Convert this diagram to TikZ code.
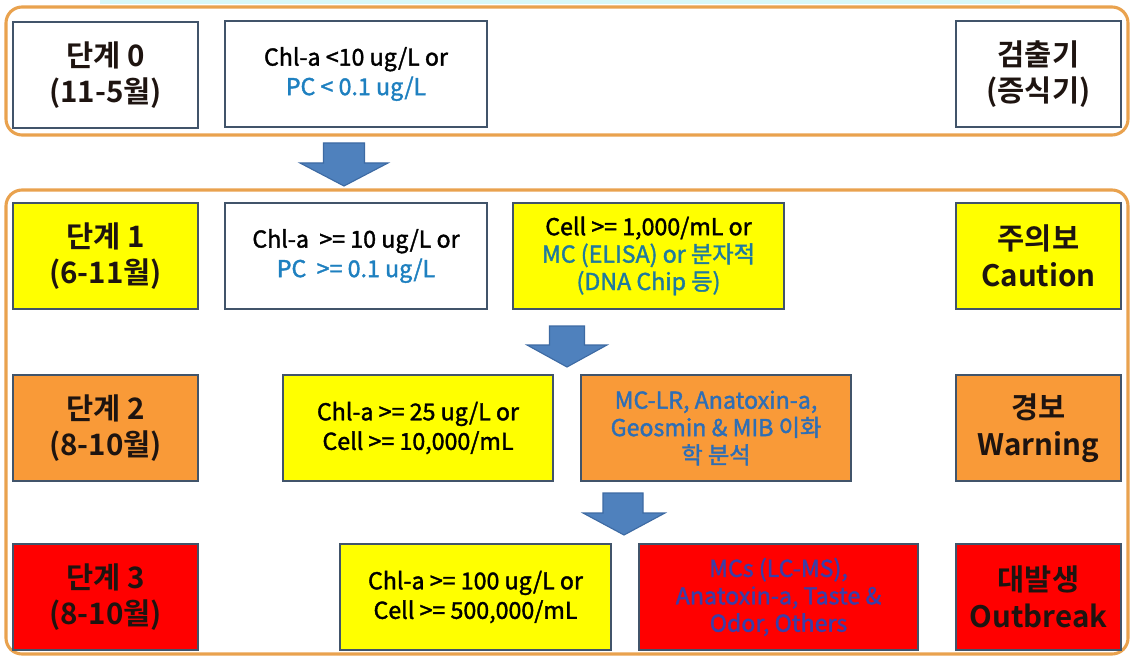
\documentclass[tikz,border=0pt]{standalone}
\usepackage{fontspec}
\setmainfont{Noto Sans CJK KR}[BoldFont={Noto Sans CJK KR Bold}]
\newfontfamily\critfont{Noto Sans CJK KR}[FakeBold=1.6]
\usepackage{tikz}
\usetikzlibrary{positioning}
\usepackage{xcolor}
\definecolor{boxline}{HTML}{41546A}
\definecolor{frameorange}{HTML}{E9A24E}
\definecolor{stageyellow}{HTML}{FFFF00}
\definecolor{stageorange}{HTML}{F99A38}
\definecolor{stagered}{HTML}{FF0000}
\definecolor{pcblue}{HTML}{1E80C0}
\definecolor{tealtext}{HTML}{1F7A9E}
\definecolor{mcblue}{HTML}{2E6EB5}
\definecolor{mcsblue}{HTML}{3A3FA8}
\definecolor{darktext}{HTML}{1E1410}
\definecolor{arrowfill}{HTML}{4F81BD}
\definecolor{arrowline}{HTML}{3D6AA3}
\definecolor{bandcyan}{HTML}{D8F8F8}

\tikzset{
  frame/.style={draw=frameorange, line width=2.2pt, rounded corners=0.4cm},
  stagebox/.style={draw=boxline, line width=2pt, inner sep=0pt, align=center,
    minimum height=2.65cm, text=darktext,
    font=\bfseries\fontsize{21}{26}\selectfont},
  critbox/.style={draw=boxline, line width=2pt, inner sep=0pt, align=center,
    minimum height=2.65cm, fill=white,
    font=\critfont\fontsize{16.5}{21}\selectfont},
  threeline/.style={font=\critfont\fontsize{16.5}{19.5}\selectfont},
  blockarrow/.style={fill=arrowfill, draw=arrowline, line width=0.8pt}
}

\begin{document}
\begin{tikzpicture}[x=0.025cm, y=-0.025cm]
    \useasboundingbox (0,0) rectangle (1130,656);

    % thin band along the top edge
    \fill[bandcyan] (100,0) rectangle (1020,4);

    % =====================
    % Frames
    % =====================
    \draw[frame] (6,7) rectangle (1128,135);
    \draw[frame] (6,190) rectangle (1128,654);

    % =====================
    % Step 0
    % =====================
    \node[stagebox, fill=white, minimum width=4.625cm] (s0) at (105.5,75) {단계 0\\(11-5월)};
    \node[critbox, minimum width=6.55cm] (c0) at (356,74)
        {Chl-a <10 ug/L or\\\textcolor{pcblue}{PC < 0.1 ug/L}};
    \node[stagebox, fill=white, minimum width=4.125cm] (r0) at (1038.5,74) {검출기\\(증식기)};

    % =====================
    % Step 1
    % =====================
    \node[stagebox, fill=stageyellow, minimum width=4.625cm] (s1) at (105.5,256) {단계 1\\(6-11월)};
    \node[critbox, minimum width=6.55cm] (c1) at (356,256)
        {Chl-a\ \ >= 10 ug/L or\\\textcolor{pcblue}{PC\ \ >= 0.1 ug/L}};
    \node[critbox, threeline, fill=stageyellow, minimum width=6.775cm] (m1) at (648.5,256)
        {Cell\ >= 1,000/mL or\\\textcolor{tealtext}{MC (ELISA) or 분자적}\\\textcolor{tealtext}{(DNA Chip 등)}};
    \node[stagebox, fill=stageyellow, minimum width=4.125cm] (r1) at (1038.5,256) {주의보\\Caution};

    % =====================
    % Step 2
    % =====================
    \node[stagebox, fill=stageorange, minimum width=4.625cm] (s2) at (105.5,428) {단계 2\\(8-10월)};
    \node[critbox, fill=stageyellow, minimum width=6.75cm] (c2) at (418,428)
        {Chl-a >= 25 ug/L or\\Cell\ >= 10,000/mL};
    \node[critbox, threeline, fill=stageorange, minimum width=6.75cm, text=mcblue] (m2) at (716,428)
        {MC-LR, Anatoxin-a,\\Geosmin \& MIB 이화\\학 분석};
    \node[stagebox, fill=stageorange, minimum width=4.125cm] (r2) at (1038.5,428) {경보\\Warning};

    % =====================
    % Step 3
    % =====================
    \node[stagebox, fill=stagered, minimum width=4.625cm] (s3) at (105.5,597) {단계 3\\(8-10월)};
    \node[critbox, fill=stageyellow, minimum width=6.775cm] (c3) at (475.5,597)
        {Chl-a >= 100 ug/L or\\Cell\ >= 500,000/mL};
    \node[critbox, threeline, fill=stagered, minimum width=6.975cm, text=mcsblue] (m3) at (778.5,597)
        {MCs (LC-MS),\\Anatoxin-a, Taste \&\\Odor, Others};
    \node[stagebox, fill=stagered, minimum width=4.125cm] (r3) at (1038.5,597) {대발생\\Outbreak};

    % =====================
    % Arrows
    % =====================
    \filldraw[blockarrow] (323.5,143) -- (364.5,143) -- (364.5,163) -- (388,163)
        -- (344,186) -- (300,163) -- (323.5,163) -- cycle;
    \filldraw[blockarrow] (549.5,326) -- (584.5,326) -- (584.5,345) -- (607,345)
        -- (567,367) -- (527,345) -- (549.5,345) -- cycle;
    \filldraw[blockarrow] (603,493) -- (643,493) -- (643,513) -- (665,513)
        -- (624,535) -- (583,513) -- (603,513) -- cycle;

\end{tikzpicture}
\end{document}
